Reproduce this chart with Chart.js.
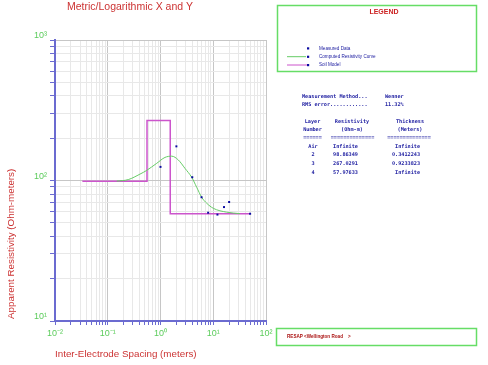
<!DOCTYPE html>
<html><head><meta charset="utf-8">
<script src="https://cdn.jsdelivr.net/npm/chart.js@4"></script>
<style>html,body{margin:0;padding:0;background:#fff;} #wrap{position:relative;width:488px;height:365px;}</style>
</head><body><div id="wrap"><canvas id="c" width="488" height="365"></canvas></div>
<script>
// ---- data ----
const measuredX = [1, 2, 4, 6, 8, 12, 16, 20, 50];
const measuredY = [125, 175, 105.5, 76, 59, 57.2, 64.7, 70.3, 58];
const curveX = [0.148, 0.245, 0.408, 0.547, 0.847, 1.216, 1.629, 2.178, 2.911, 3.899, 4.853, 6.039, 7.516, 10.02, 17.99, 32.1];
const curveY = [99, 101.5, 111, 118, 132.5, 146, 149, 140, 122, 105.5, 89.5, 75.9, 68.9, 63.4, 59.5, 58.1];
const soilX = [0.033, 0.555, 0.555, 1.53, 1.53, 50];
const soilY = [98.86, 98.86, 267.03, 267.03, 57.98, 57.98];

const xTickValues = [0.01,0.02,0.03,0.04,0.05,0.06,0.07,0.08,0.09,0.1,0.2,0.3,0.4,0.5,0.6,0.7,0.8,0.9,1,2,3,4,5,6,7,8,9,10,20,30,40,50,60,70,80,90,100];
const yTickValues = [10,20,30,40,50,60,70,80,90,100,200,300,400,500,600,700,800,900,1000];
const xMajorValues = [0.01, 0.1, 1, 10, 100];
const xMajorLabels = ['10\u207B\u00B2', '10\u207B\u00B9', '10\u2070', '10\u00B9', '10\u00B2'];
const yMajorValues = [10, 100, 1000];
const yMajorLabels = ['10\u00B9', '10\u00B2', '10\u00B3'];

const chartTitle = 'Metric/Logarithmic X and Y';
const xTitle = 'Inter-Electrode Spacing (meters)';
const yTitle = 'Apparent Resistivity (Ohm-meters)';
const legendTitle = 'LEGEND';
const legendNames = ['Measured Data', 'Computed Resistivity Curve', 'Soil Model'];
const infoLabels = ['Measurement Method...', 'RMS error............'];
const infoValues = ['Wenner', '11.32%'];
const layerHeader1 = ['Layer', 'Resistivity', 'Thickness'];
const layerHeader2 = ['Number', '(Ohm-m)', '(Meters)'];
const layerSep = ['======', '==============', '=============='];
const layerNames = ['Air', '2', '3', '4'];
const layerRes = ['Infinite', '98.86349', '267.0291', '57.97633'];
const layerThk = ['Infinite', '0.3412243', '0.9233823', 'Infinite'];
const footerText = 'RESAP <Wellington Road    >';

// ---- helpers ----
const isMajor = v => Math.abs(Math.log10(v) - Math.round(Math.log10(v))) < 1e-6;
const findLabel = (v, vals, labs) => { for (let i = 0; i < vals.length; i++) if (Math.abs(Math.log10(v) - Math.log10(vals[i])) < 1e-6) return labs[i]; return ''; };
const pts = (xs, ys) => xs.map((x, i) => ({x: x, y: ys[i]}));

const AXIS_BLUE = '#6b6bd0';
const TICK_GREEN = '#5ccc5c';
const TITLE_RED = '#cc3333';
const TEXT_BLUE = '#1c1ca0';

const decor = {
  id: 'decor',
  afterDraw(chart) {
    const c = chart.ctx;
    c.save();
    // chart title
    c.fillStyle = TITLE_RED;
    c.font = '10.5px "Liberation Sans", Arial, sans-serif';
    c.textBaseline = 'middle';
    c.textAlign = 'left';
    c.fillText(chartTitle, 67, 7);
    // x title
    c.font = '9.8px "Liberation Sans", Arial, sans-serif';
    c.fillText(xTitle, 55, 354);
    // y title
    c.save();
    c.translate(11, 319);
    c.rotate(-Math.PI / 2);
    c.textAlign = 'left';
    c.fillText(yTitle, 0, 0);
    c.restore();

    // legend box
    c.strokeStyle = '#66dd66';
    c.lineWidth = 1.5;
    c.strokeRect(277.5, 5.5, 199, 66);
    c.fillStyle = '#cc2222';
    c.font = 'bold 7px "Liberation Sans", Arial, sans-serif';
    c.textAlign = 'center';
    c.fillText(legendTitle, 384, 12);

    const ly = [48.3, 56.7, 65];
    c.lineWidth = 1;
    c.strokeStyle = '#66cc66';
    c.beginPath(); c.moveTo(287, ly[1]); c.lineTo(306, ly[1]); c.stroke();
    c.strokeStyle = '#cc55cc';
    c.beginPath(); c.moveTo(287, ly[2]); c.lineTo(308, ly[2]); c.stroke();
    c.fillStyle = '#0a0aa0';
    ly.forEach(y => c.fillRect(307, y - 1, 2.2, 2.2));
    c.fillStyle = TEXT_BLUE;
    c.font = '4.6px "Liberation Sans", Arial, sans-serif';
    c.textAlign = 'left';
    legendNames.forEach((t, i) => c.fillText(t, 319, ly[i]));

    // info text
    c.font = 'bold 5.2px "DejaVu Sans Mono", monospace';
    c.fillStyle = TEXT_BLUE;
    const iy = [96.7, 105];
    infoLabels.forEach((t, i) => { c.textAlign = 'left'; c.fillText(t, 302, iy[i]); c.fillText(infoValues[i], 385, iy[i]); });
    c.textAlign = 'center';
    const hc = [312.5, 352, 410];
    layerHeader1.forEach((t, i) => c.fillText(t, hc[i], 121.7));
    layerHeader2.forEach((t, i) => c.fillText(t, hc[i], 129.3));
    const sc = [312.5, 352.5, 409];
    layerSep.forEach((t, i) => c.fillText(t, sc[i], 137.7));
    const ry = [146.7, 155, 163.7, 172.3];
    layerNames.forEach((t, i) => {
      c.textAlign = 'center';
      c.fillText(t, 313, ry[i]);
      c.fillText(layerRes[i], 345.5, ry[i]);
      c.textAlign = 'right';
      c.fillText(layerThk[i], 420, ry[i]);
    });

    // footer box
    c.strokeStyle = '#66dd66';
    c.lineWidth = 1.5;
    c.strokeRect(276.5, 328.5, 200, 17);
    c.fillStyle = '#aa1111';
    c.font = 'bold 4.6px "Liberation Sans", Arial, sans-serif';
    c.textAlign = 'left';
    c.fillText(footerText, 287, 337);
    c.restore();
  }
};

new Chart(document.getElementById('c'), {
  type: 'scatter',
  data: {
    datasets: [
      { label: legendNames[2], data: pts(soilX, soilY), showLine: true, borderColor: '#cc55cc', borderWidth: 1.5, pointRadius: 0, tension: 0, order: 3 },
      { label: legendNames[1], data: pts(curveX, curveY), showLine: true, borderColor: '#66cc66', borderWidth: 1, pointRadius: 0, cubicInterpolationMode: 'monotone', order: 2 },
      { label: legendNames[0], data: pts(measuredX, measuredY), showLine: false, pointStyle: 'rect', pointRadius: 1.4, backgroundColor: '#0a0aa0', borderColor: '#0a0aa0', borderWidth: 0, order: 1 }
    ]
  },
  options: {
    responsive: false,
    devicePixelRatio: 1,
    animation: false,
    layout: { padding: { left: 0, top: 40, right: 222, bottom: 0 } },
    plugins: { legend: { display: false }, title: { display: false }, tooltip: { enabled: false } },
    scales: {
      x: {
        type: 'logarithmic', min: 0.01, max: 100,
        afterBuildTicks: s => { s.ticks = xTickValues.map(v => ({ value: v, major: isMajor(v) })); },
        afterFit: s => { s.height = 44; },
        border: { color: AXIS_BLUE, width: 2 },
        grid: {
          color: c => (c.tick && isMajor(c.tick.value)) ? '#c6c6c6' : '#e8e8e8',
          lineWidth: 1, tickColor: AXIS_BLUE, tickLength: 4, drawTicks: true
        },
        ticks: {
          autoSkip: false, maxRotation: 0, padding: 3, color: TICK_GREEN,
          font: { family: '"Liberation Sans", Arial, sans-serif', size: 9 },
          callback: v => findLabel(v, xMajorValues, xMajorLabels)
        }
      },
      y: {
        type: 'logarithmic', min: 10, max: 1000,
        afterBuildTicks: s => { s.ticks = yTickValues.map(v => ({ value: v, major: isMajor(v) })); },
        afterFit: s => { s.width = 55; },
        border: { color: AXIS_BLUE, width: 2 },
        grid: {
          color: c => (c.tick && isMajor(c.tick.value)) ? '#c6c6c6' : '#e8e8e8',
          lineWidth: 1, tickColor: AXIS_BLUE, tickLength: 5, drawTicks: true
        },
        ticks: {
          autoSkip: false, padding: 3, color: TICK_GREEN, labelOffset: -4,
          font: { family: '"Liberation Sans", Arial, sans-serif', size: 9 },
          callback: v => findLabel(v, yMajorValues, yMajorLabels)
        }
      }
    }
  },
  plugins: [decor]
});
</script></body></html>
